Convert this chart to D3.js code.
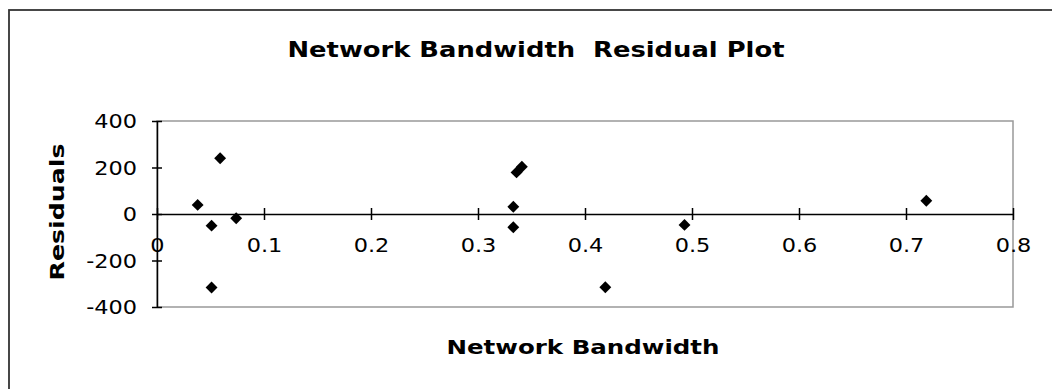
<!DOCTYPE html>
<html>
<head>
<meta charset="utf-8">
<script src="https://cdn.jsdelivr.net/npm/d3@7"></script>
<style>
  html, body { margin: 0; padding: 0; background: #fff; }
  svg { display: block; }
  text { font-family: "DejaVu Sans", Verdana, sans-serif; fill: #000; }
</style>
</head>
<body>
<svg id="chart" width="1052" height="389"></svg>
<script>
const title = "Network Bandwidth  Residual Plot";
const xTitle = "Network Bandwidth";
const yTitle = "Residuals";
const bandwidth = [0.038, 0.051, 0.051, 0.059, 0.074, 0.333, 0.333, 0.336, 0.341, 0.419, 0.493, 0.719];
const residuals = [39, -50, -316, 240, -18, 31, -57, 179, 203, -315, -47, 57];
const xTicks = [0, 0.1, 0.2, 0.3, 0.4, 0.5, 0.6, 0.7, 0.8];
const yTicks = [-400, -200, 0, 200, 400];

(function () {
const svg = d3.select("#chart");
const pL = 157, pR = 1013, pT = 121, pB = 307;
const sx = 1.18;
const x = d3.scaleLinear().domain([0, 0.8]).range([pL, pR]);
const y = d3.scaleLinear().domain([-400, 400]).range([pB, pT]);

// outer chart border (extends beyond the picture on right and bottom)
svg.append("rect").attr("x", 9).attr("y", 10).attr("width", 1100).attr("height", 420)
  .attr("fill", "none").attr("stroke", "#333").attr("stroke-width", 1.8);

// plot area border
svg.append("rect").attr("x", pL).attr("y", pT).attr("width", pR - pL).attr("height", pB - pT)
  .attr("fill", "none").attr("stroke", "#999").attr("stroke-width", 1.5);

// y axis
const yAxis = d3.axisLeft(y).tickValues(yTicks).tickSizeInner(5).tickSizeOuter(0)
  .tickFormat(d => String(d));
const gy = svg.append("g").attr("transform", `translate(${pL},0)`).call(yAxis);
gy.select(".domain").attr("stroke", "#000").attr("stroke-width", 1.5);
gy.selectAll(".tick line").attr("stroke", "#000").attr("stroke-width", 1.5).attr("x2", -5).attr("x1", 5);
gy.selectAll(".tick text").attr("font-size", 19).attr("font-family", "DejaVu Sans").attr("fill", "#000")
  .attr("x", -20 / sx).attr("dy", "0.36em").attr("transform", `scale(${sx},1)`);

// x axis at y = 0
const xAxis = d3.axisBottom(x).tickValues(xTicks).tickSizeInner(5).tickSizeOuter(0)
  .tickFormat(d => d === 0 ? "0" : d3.format(".1f")(d));
const gx = svg.append("g").attr("transform", `translate(0,${y(0)})`).call(xAxis);
gx.select(".domain").attr("stroke", "#000").attr("stroke-width", 1.5);
gx.selectAll(".tick line").attr("stroke", "#000").attr("stroke-width", 1.5).attr("y1", -6).attr("y2", 6);
gx.selectAll(".tick text").attr("font-size", 19).attr("font-family", "DejaVu Sans").attr("fill", "#000")
  .attr("y", 25).attr("dy", "0.71em").attr("transform", `scale(${sx},1)`);

// points
svg.append("g").selectAll("path").data(bandwidth.map((b, i) => [b, residuals[i]])).join("path")
  .attr("transform", d => `translate(${x(d[0])},${y(d[1])})`)
  .attr("d", d3.symbol().type(d3.symbolDiamond2).size(90))
  .attr("fill", "#000");

// titles
svg.append("text").attr("x", 536).attr("y", 57).attr("text-anchor", "middle")
  .style("white-space", "pre")
  .attr("font-size", 22).attr("font-weight", "bold")
  .attr("textLength", 497).attr("lengthAdjust", "spacingAndGlyphs").text(title);
svg.append("text").attr("x", 583).attr("y", 354).attr("text-anchor", "middle")
  .attr("font-size", 20).attr("font-weight", "bold")
  .attr("textLength", 273).attr("lengthAdjust", "spacingAndGlyphs").text(xTitle);
svg.append("text").attr("transform", "translate(64,212) rotate(-90)").attr("text-anchor", "middle")
  .attr("font-size", 20).attr("font-weight", "bold")
  .attr("textLength", 137).attr("lengthAdjust", "spacingAndGlyphs").text(yTitle);
})();
</script>
</body>
</html>
